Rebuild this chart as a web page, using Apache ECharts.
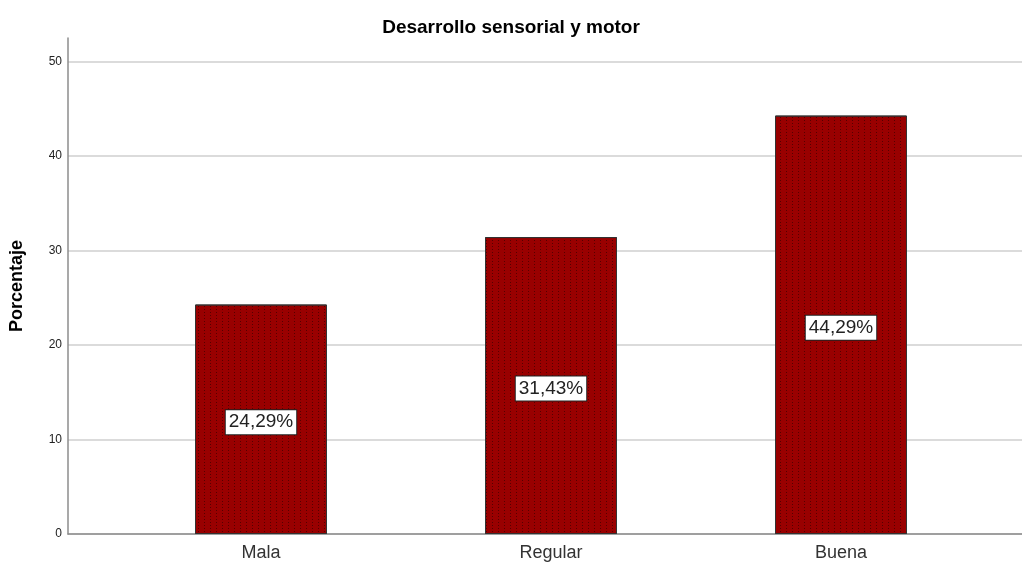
<!DOCTYPE html>
<html>
<head>
<meta charset="utf-8">
<script src="https://cdn.jsdelivr.net/npm/echarts@6/dist/echarts.min.js"></script>
<style>
  html, body { margin: 0; padding: 0; background: #fff; }
  #chart { width: 1022px; height: 563px; }
</style>
</head>
<body>
<div id="chart"></div>
<script>
const categories = ['Mala', 'Regular', 'Buena'];
const percentages = [24.29, 31.43, 44.29];
const yTicks = [0, 10, 20, 30, 40, 50];

const labels = percentages.map(v => v.toFixed(2).replace('.', ',') + '%');

let myChart = echarts.init(document.getElementById('chart'));
let option = {
  animation: false,
  title: {
    text: 'Desarrollo sensorial y motor',
    left: 'center',
    top: 13,
    textStyle: { fontFamily: 'Liberation Sans', fontSize: 19, fontWeight: 'bold', color: '#000' }
  },
  grid: [
    { left: 66, right: 0, top: 38, bottom: 29 },
    { left: 116, right: 36, top: 38, bottom: 29 }
  ],
  xAxis: [
    {
      gridIndex: 0, type: 'value', min: 0, max: 1,
      axisLine: { show: true, lineStyle: { color: '#8c8c8c', width: 1.5 } },
      axisTick: { show: false }, axisLabel: { show: false }, splitLine: { show: false }
    },
    {
      gridIndex: 1, type: 'category', data: categories,
      axisLine: { show: false }, axisTick: { show: false },
      axisLabel: { fontFamily: 'Liberation Sans', fontSize: 18, color: '#333', margin: 10 }
    }
  ],
  yAxis: [
    {
      gridIndex: 0, type: 'value', min: 0, max: 52.5, interval: 10,
      name: 'Porcentaje', nameLocation: 'middle', nameGap: 42,
      nameTextStyle: { fontFamily: 'Liberation Sans', fontSize: 18, fontWeight: 'bold', color: '#000' },
      axisLine: { show: true, lineStyle: { color: '#8c8c8c', width: 1.5 } },
      axisTick: { show: false },
      axisLabel: {
        fontFamily: 'Liberation Sans', fontSize: 12, color: '#222', margin: 6,
        formatter: v => (yTicks.includes(v) ? String(v) : '')
      },
      splitLine: { show: true, showMaxLine: false, lineStyle: { color: '#cfcfcf', width: 1.5 } }
    },
    {
      gridIndex: 1, type: 'value', min: 0, max: 52.5, interval: 10,
      axisLine: { show: false }, axisTick: { show: false },
      axisLabel: { show: false }, splitLine: { show: false }
    }
  ],
  series: [
    {
      type: 'bar',
      xAxisIndex: 1, yAxisIndex: 1,
      barWidth: 132,
      data: percentages,
      itemStyle: {
        color: '#990000',
        borderColor: '#333',
        borderWidth: 1,
        decal: {
          symbol: 'rect',
          symbolSize: 1,
          color: 'rgba(40,0,0,0.6)',
          dashArrayX: [1, 5],
          dashArrayY: [1, 2],
          rotation: 0
        }
      },
      label: {
        show: true,
        position: 'inside',
        offset: [0, 3],
        formatter: p => labels[p.dataIndex],
        fontFamily: 'Liberation Sans',
        fontSize: 19,
        color: '#222',
        backgroundColor: '#fff',
        borderColor: '#222',
        borderWidth: 1,
        padding: [3, 3, 2, 3]
      }
    }
  ]
};
myChart.setOption(option);
</script>
</body>
</html>
